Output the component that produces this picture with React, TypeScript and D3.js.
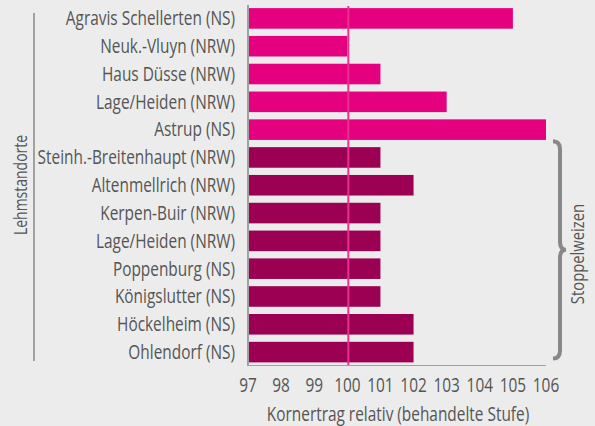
import React from "react";
import * as d3 from "d3";

const categories = [
  "Agravis Schellerten (NS)",
  "Neuk.-Vluyn (NRW)",
  "Haus Düsse (NRW)",
  "Lage/Heiden (NRW)",
  "Astrup (NS)",
  "Steinh.-Breitenhaupt (NRW)",
  "Altenmellrich (NRW)",
  "Kerpen-Buir (NRW)",
  "Lage/Heiden (NRW) ",
  "Poppenburg (NS)",
  "Königslutter (NS)",
  "Höckelheim (NS)",
  "Ohlendorf (NS)",
];
const values = [105, 100, 101, 103, 106, 101, 102, 101, 101, 101, 101, 102, 102];
const groups = ["a", "a", "a", "a", "a", "b", "b", "b", "b", "b", "b", "b", "b"];
const ticks = [97, 98, 99, 100, 101, 102, 103, 104, 105, 106];
const xTitle = "Kornertrag relativ (behandelte Stufe)";
const yTitle = "Lehmstandorte";
const braceLabel = "Stoppelweizen";

const W = 595, H = 426;
const FONT = "'Open Sans', sans-serif";

function T(props: { x: number; y: number; anchor?: string; rotate?: number; fs?: number; sx?: number; children: React.ReactNode }) {
  const { x, y, anchor = "start", rotate = 0, fs = 19.5, sx = 0.79, children } = props;
  return (
    <text
      transform={`translate(${x},${y}) rotate(${rotate}) scale(${sx},1)`}
      dy="0.35em"
      textAnchor={anchor}
      fontSize={fs}
      fill="#555555"
    >
      {children}
    </text>
  );
}

export default function App() {
  const x = d3.scaleLinear().domain([97, 106]).range([248, 546]);
  const y = d3.scaleBand<string>().domain(categories).range([4.5, 366]).paddingInner(0.26).paddingOuter(0.13);
  const colors: Record<string, string> = { a: "#e4007f", b: "#9b0052" };
  const braceTop = y(categories[5])! - 6;
  const braceBot = y(categories[12])! + y.bandwidth() - 4;
  const mid = (braceTop + braceBot) / 2;
  const bx = 560;
  const brace = `M ${bx - 7} ${braceTop} Q ${bx} ${braceTop} ${bx} ${braceTop + 8} L ${bx} ${mid - 8} Q ${bx} ${mid} ${bx + 6} ${mid} Q ${bx} ${mid} ${bx} ${mid + 8} L ${bx} ${braceBot - 8} Q ${bx} ${braceBot} ${bx - 7} ${braceBot}`;
  return (
    <svg width={W} height={H} style={{ position: "absolute", left: 0, top: 0, background: "#ececec" }} fontFamily={FONT}>
      <rect x={0} y={0} width={W} height={H} fill="#ececec" />
      {categories.map((c, i) => (
        <rect key={i} x={x(97)} y={y(c)} width={x(values[i]) - x(97)} height={y.bandwidth()} fill={colors[groups[i]]} />
      ))}
      <line x1={x(100) + 1} x2={x(100) + 1} y1={6} y2={365} stroke="#e8308f" strokeWidth={2} />
      <line x1={x(97)} x2={x(97)} y1={5} y2={366} stroke="#a0a0a0" strokeWidth={2} />
      <line x1={x(97)} x2={x(106)} y1={365.5} y2={365.5} stroke="#a0a0a0" strokeWidth={1} />
      {categories.map((c, i) => (
        <T key={i} x={235} y={y(c)! + y.bandwidth() / 2} anchor="end">
          {c.trim()}
        </T>
      ))}
      {ticks.map((t) => (
        <T key={t} x={x(t)} y={385} anchor="middle">
          {t}
        </T>
      ))}
      <T x={398} y={414} anchor="middle">
        {xTitle}
      </T>
      <line x1={34} x2={34} y1={13} y2={361} stroke="#888888" strokeWidth={1.5} />
      <T x={21} y={185} anchor="middle" rotate={-90} fs={17.5} sx={0.8}>
        {yTitle}
      </T>
      <path d={brace} fill="none" stroke="#888888" strokeWidth={4} />
      <T x={578} y={254} anchor="middle" rotate={-90} fs={18.5} sx={0.8}>
        {braceLabel}
      </T>
    </svg>
  );
}
